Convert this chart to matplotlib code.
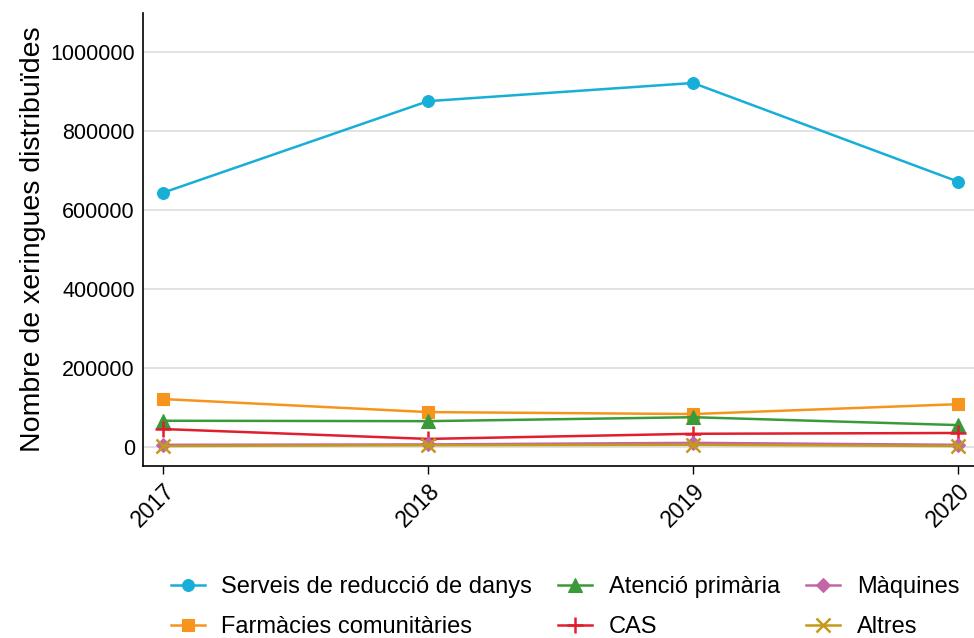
import matplotlib
matplotlib.use("Agg")
import matplotlib.pyplot as plt

plt.rcParams['font.family'] = ['Liberation Sans', 'DejaVu Sans']

years = [2017, 2018, 2019, 2020]
serveis = [644000, 876000, 922000, 672000]
farmacies = [121000, 88000, 83000, 108000]
atencio = [66000, 65000, 75000, 55000]
cas = [45000, 20000, 33000, 35000]
maquines = [5000, 6000, 10000, 5000]
altres = [2000, 4000, 5000, 2000]

series = [
    ("Serveis de reducció de danys", serveis, "#17AED8", "o", 8.5),
    ("Farmàcies comunitàries", farmacies, "#F7941D", "s", 8.5),
    ("Atenció primària", atencio, "#3A9A3A", "^", 9.5),
    ("CAS", cas, "#E01E2E", "+", 11),
    ("Màquines", maquines, "#C266A8", "D", 7.5),
    ("Altres", altres, "#C49A1A", "x", 9.5),
]

fig = plt.figure(figsize=(9.74, 6.38), dpi=100)
ax = fig.add_axes([0.147, 0.27, 0.853, 0.71])

for label, vals, color, marker, ms in series:
    ax.plot(years, vals, color=color, marker=marker, markersize=ms, linewidth=1.8,
            markeredgewidth=1.8 if marker in "+x" else 0.8, label=label)

ax.set_xlim(2016.925, 2020.06)
ax.set_ylim(-48000, 1100000)
ax.set_xticks(years)
ax.set_xticklabels([str(y) for y in years], rotation=45, ha='right', rotation_mode='anchor', fontsize=16.5)
ax.set_yticks([0, 200000, 400000, 600000, 800000, 1000000])
ax.set_yticklabels(["0", "200000", "400000", "600000", "800000", "1000000"], fontsize=15.5)
ax.tick_params(axis='y', length=0, pad=6)
ax.tick_params(axis='x', length=6, width=1, pad=4)
ax.grid(axis='y', color='#DDDDDD', linewidth=1.2)
ax.set_axisbelow(True)
for s in ['top', 'right']:
    ax.spines[s].set_visible(False)
for s in ['left', 'bottom']:
    ax.spines[s].set_linewidth(1.2)
ax.set_ylabel("Nombre de xeringues distribuïdes", fontsize=20.5, labelpad=3)

fig.legend(loc='lower center', bbox_to_anchor=(0.58, -0.034), ncol=3, frameon=False,
           fontsize=17, handlelength=1.45, handletextpad=0.7, columnspacing=1.1,
           labelspacing=0.78)

fig.savefig("out.png", dpi=100)
